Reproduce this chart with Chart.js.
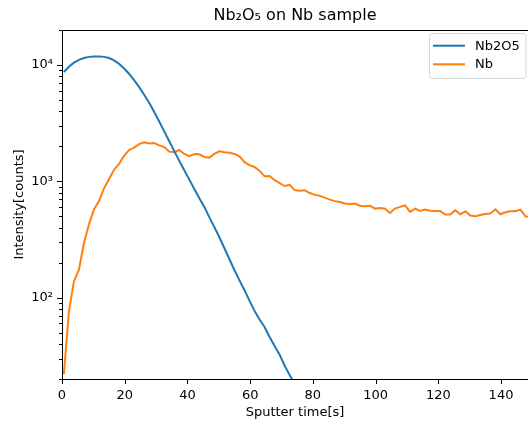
<!DOCTYPE html>
<html>
<head>
<meta charset="utf-8">
<script src="https://cdn.jsdelivr.net/npm/chart.js@4.4.1/dist/chart.umd.min.js"></script>
<style>
  html, body { margin: 0; padding: 0; background: #fff; }
  #wrap { width: 528px; height: 426px; position: relative; }
</style>
</head>
<body>
<div id="wrap"><canvas id="grafico"></canvas></div>
<script>
// sputter time [s]
const tempos = [0.6, 2.2, 3.8, 5.4, 7.0, 8.6, 10.2, 11.8, 13.4, 15.0, 16.6, 18.2, 19.8, 21.4, 23.0, 24.6,
  26.2, 27.8, 29.4, 31.0, 32.6, 34.2, 35.8, 37.4, 39.0, 40.6, 42.2, 43.8, 45.4, 47.0, 48.6, 50.2,
  51.8, 53.4, 55.0, 56.6, 58.2, 59.8, 61.4, 63.0, 64.6, 66.2, 67.8, 69.4, 71.0, 72.6, 74.2, 75.8,
  77.4, 79.0, 80.6, 82.2, 83.8, 85.4, 87.0, 88.6, 90.2, 91.8, 93.4, 95.0, 96.6, 98.2, 99.8, 101.4,
  103.0, 104.6, 106.2, 107.8, 109.4, 111.0, 112.6, 114.2, 115.8, 117.4, 119.0, 120.6, 122.2, 123.8,
  125.4, 127.0, 128.6, 130.2, 131.8, 133.4, 135.0, 136.6, 138.2, 139.8, 141.4, 143.0, 144.6, 146.2,
  147.8, 149.4];

// intensity [counts]
const nb2o5 = [8710, 9660, 10470, 11090, 11480, 11750, 11860, 11860, 11750, 11480, 10960, 10230,
  9330, 8410, 7410, 6460, 5560, 4730, 3940, 3270, 2690, 2210, 1820, 1500, 1245, 1035, 861, 716,
  603, 490, 403, 331, 266, 214, 172, 141, 116, 94, 77, 65, 56, 46, 38.5, 32.4, 26, 21.6, 18.2, 15.1];

const nb = [22, 76, 138, 174, 295, 427, 575, 676, 871, 1047,
  1259, 1413, 1660, 1862, 1950, 2090, 2170, 2115, 2140, 2040,
  1970, 1800, 1780, 1860, 1720, 1650, 1720, 1710, 1620, 1600,
  1720, 1810, 1780, 1760, 1720, 1640, 1460, 1380, 1330, 1230,
  1105, 1110, 1023, 966, 912, 933, 841, 832, 838, 794,
  766, 750, 724, 697, 676, 665, 646, 635, 644, 617,
  611, 617, 583, 590, 582, 535, 583, 603, 622, 546,
  583, 557, 573, 560, 557, 557, 518, 518, 564, 521,
  553, 508, 501, 513, 525, 528, 575, 521, 543, 553,
  553, 571, 501, 490];

const xTicks = [0, 20, 40, 60, 80, 100, 120, 140];
const yTicks = [100, 1000, 10000];
const yTickLabels = ['10\u00B2', '10\u00B3', '10\u2074'];
const yMinor = [20, 30, 40, 50, 60, 70, 80, 90, 200, 300, 400, 500, 600, 700, 800, 900,
  2000, 3000, 4000, 5000, 6000, 7000, 8000, 9000, 20000];

const FONTE = "'DejaVu Sans', sans-serif";

function pontos(valores) {
  return valores.map((v, i) => ({ x: tempos[i], y: v }));
}

// spines, tick marks and legend box drawn like matplotlib
const eixosPlugin = {
  id: 'eixos',
  afterDraw(chart) {
    const ctx = chart.ctx;
    const a = chart.chartArea;
    const sx = chart.scales.x;
    const sy = chart.scales.y;
    ctx.save();
    ctx.strokeStyle = '#000';
    ctx.lineWidth = 1;
    ctx.beginPath();
    ctx.moveTo(a.left + 0.5, a.bottom + 0.5);
    ctx.lineTo(a.left + 0.5, a.top + 0.5);
    ctx.lineTo(a.right + 2, a.top + 0.5);
    ctx.moveTo(a.left, a.bottom + 0.5);
    ctx.lineTo(a.right + 2, a.bottom + 0.5);
    ctx.stroke();

    ctx.beginPath();
    xTicks.forEach(v => {
      const px = Math.round(sx.getPixelForValue(v)) + 0.5;
      ctx.moveTo(px, a.bottom);
      ctx.lineTo(px, a.bottom + 5);
    });
    yTicks.forEach(v => {
      const py = Math.round(sy.getPixelForValue(v)) + 0.5;
      ctx.moveTo(a.left, py);
      ctx.lineTo(a.left - 5, py);
    });
    yMinor.forEach(v => {
      const py = Math.round(sy.getPixelForValue(v)) + 0.5;
      ctx.moveTo(a.left, py);
      ctx.lineTo(a.left - 3, py);
    });
    ctx.stroke();

    // legend
    const bx = 429.5, by = 33.5, bw = 96.5, bh = 45;
    ctx.fillStyle = 'rgba(255,255,255,0.8)';
    ctx.strokeStyle = '#d6d6d6';
    ctx.beginPath();
    ctx.roundRect(bx, by, bw, bh, 3);
    ctx.fill();
    ctx.stroke();
    ctx.font = '13px ' + FONTE;
    ctx.textBaseline = 'middle';
    ctx.textAlign = 'left';
    chart.data.datasets.forEach((ds, i) => {
      const y = 45.7 + i * 18.6;
      ctx.strokeStyle = ds.borderColor;
      ctx.lineWidth = 2;
      ctx.beginPath();
      ctx.moveTo(433, y);
      ctx.lineTo(465, y);
      ctx.stroke();
      ctx.fillStyle = '#000';
      ctx.fillText(ds.label, 475, y + 0.5);
    });
    ctx.restore();
  }
};

const ctx = document.getElementById('grafico').getContext('2d');
new Chart(ctx, {
  type: 'line',
  data: {
    datasets: [
      { label: 'Nb2O5', data: pontos(nb2o5), borderColor: '#1f77b4', borderWidth: 2,
        pointRadius: 0, tension: 0, fill: false, clip: 0 },
      { label: 'Nb', data: pontos(nb), borderColor: '#ff7f0e', borderWidth: 2,
        pointRadius: 0, tension: 0, fill: false, clip: 0 }
    ]
  },
  options: {
    responsive: true,
    maintainAspectRatio: false,
    animation: false,
    layout: { padding: { left: 0, right: 0, top: 0, bottom: 0 } },
    plugins: {
      legend: { display: false },
      tooltip: { enabled: false },
      title: {
        display: true,
        fullSize: false, // centre over the plot area, not the canvas
        text: 'Nb\u2082O\u2085 on Nb sample',
        color: '#000',
        font: { family: FONTE, size: 16, weight: 'normal' },
        padding: { top: 6.4, bottom: 4.4 }
      }
    },
    scales: {
      x: {
        type: 'linear',
        min: 0,
        max: 148.6,
        afterBuildTicks: s => { s.ticks = xTicks.map(v => ({ value: v })); },
        afterFit: s => { s.height = 47; },
        grid: { display: false, drawTicks: false },
        border: { display: false },
        ticks: { color: '#000', font: { family: FONTE, size: 13 }, padding: 9, maxRotation: 0, autoSkip: false },
        title: { display: true, text: 'Sputter time[s]', color: '#000',
          font: { family: FONTE, size: 13 }, padding: { top: 0, bottom: 6 } }
      },
      y: {
        type: 'logarithmic',
        min: 20,
        max: 20000,
        afterBuildTicks: s => { s.ticks = yTicks.map(v => ({ value: v })); },
        afterFit: s => { s.width = 62; },
        grid: { display: false, drawTicks: false },
        border: { display: false },
        ticks: {
          color: '#000', font: { family: FONTE, size: 13 }, padding: 9,
          callback: (v) => yTickLabels[yTicks.indexOf(v)]
        },
        title: { display: true, text: 'Intensity[counts]', color: '#000',
          font: { family: FONTE, size: 13 }, padding: { top: 12, bottom: 0 } }
      }
    }
  },
  plugins: [eixosPlugin]
});
</script>
</body>
</html>
